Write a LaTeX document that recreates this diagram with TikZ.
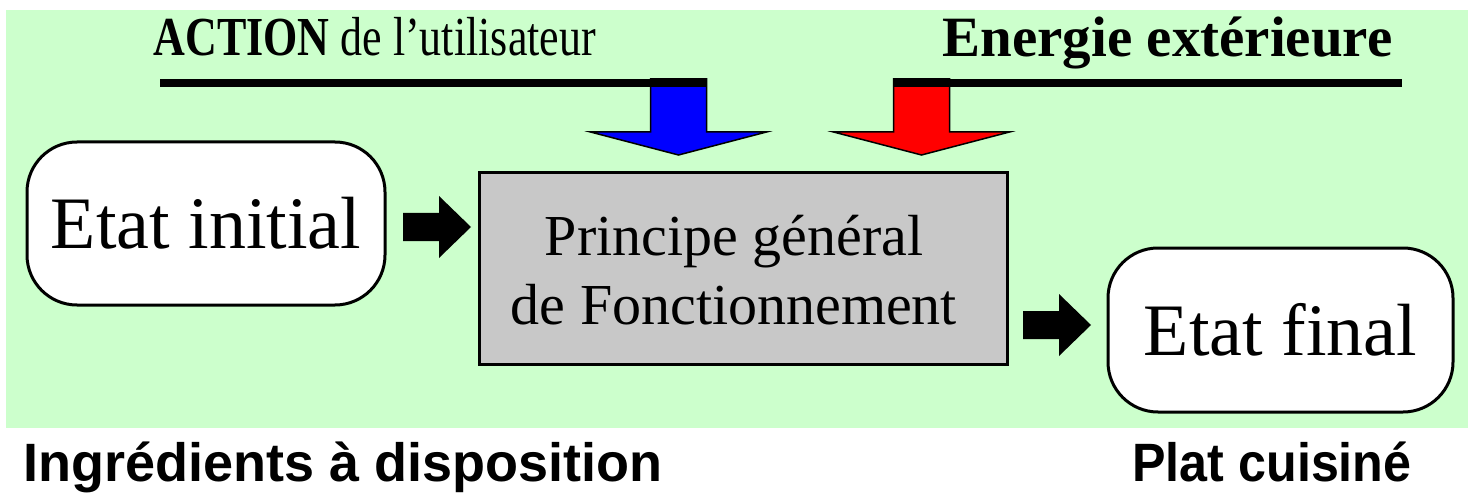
\documentclass[tikz,border=0pt]{standalone}
\usepackage{fontspec}
\setmainfont{Liberation Serif}
\newfontfamily\bandeau{Liberation Sans}
\usepackage{tikz}
\usetikzlibrary{positioning}

\definecolor{vertclair}{RGB}{204,255,204}
\definecolor{grisbloc}{RGB}{200,200,200}
\definecolor{bleuvif}{RGB}{0,0,255}
\definecolor{rougevif}{RGB}{255,0,0}

% grosse fleche vers le bas (haut du fut en #1)
\newcommand{\flechebas}[2]{\filldraw[entree,fill=#2,shift={#1}] (-28,0) -- (-28,53) -- (-88,53) -- (0,76) -- (88,53) -- (28,53) -- (28,0) -- cycle;}
% fleche noire vers la droite (queue en #1)
\newcommand{\flechedroite}[1]{\fill[shift={#1}] (0,-14) -- (36,-14) -- (36,-31) -- (68,0) -- (36,31) -- (36,14) -- (0,14) -- cycle;}

\begin{document}
\begin{tikzpicture}[x=1pt,y=-1pt,
		etat/.style={rectangle,draw,line width=3pt,fill=white,rounded corners=50pt,inner sep=0pt,font=\fontsize{74}{80}\selectfont},
		bloc/.style={rectangle,draw,line width=3pt,fill=grisbloc,inner sep=0pt},
		entree/.style={draw=black,line width=1.5pt,line join=miter},
		barre/.style={line width=8pt},
		legende/.style={font=\bandeau\bfseries\fontsize{54}{60}\selectfont,anchor=base}]

			\useasboundingbox (0,0) rectangle (1480,497);
			\fill[vertclair] (6,10) rectangle (1468,428);

			\node[anchor=base west,font=\fontsize{55}{60}\selectfont] (action) at (150,56) {\scalebox{0.8}[1]{\textbf{ACTION} de l’utilisateur}};
			\node[anchor=base east,font=\bfseries\fontsize{57}{60}\selectfont] (energie) at (1396,57) {Energie extérieure};

			\node[etat,minimum width=358pt,minimum height=163pt] (init) at (206,223.5) {\raisebox{-3pt}{Etat initial}};
			\node[bloc,minimum width=528pt,minimum height=191pt] (fonct) at (743,268.5) {};
			\node[align=center,font=\fontsize{58}{69}\selectfont] (fonctlabel) at ([xshift=-9pt,yshift=-2pt]fonct.center) {Principe général\\de Fonctionnement};
			\node[etat,minimum width=345pt,minimum height=164pt] (final) at (1280.5,330) {\raisebox{-2pt}{Etat final}};

			\coordinate (actionpied) at (678.5,79);
			\coordinate (energiepied) at (921.5,79);
			\flechebas{(actionpied)}{bleuvif}
			\flechebas{(energiepied)}{rougevif}

			\coordinate (actiondebut) at (160,83);
			\coordinate (energiefin) at (1402,83);
			\draw[barre] (actiondebut) -- ([xshift=28pt]actionpied |- actiondebut);
			\draw[barre] ([xshift=-28pt]energiepied |- energiefin) -- (energiefin);

			\flechedroite{(403,227)}
			\flechedroite{(1023,325)}

			\node[legende,anchor=base west] (ingredients) at (20,481) {Ingrédients à disposition};
			\node[legende] (plat) at (1272,481) {\scalebox{0.93}[1]{Plat cuisiné}};
		\end{tikzpicture}
\end{document}
